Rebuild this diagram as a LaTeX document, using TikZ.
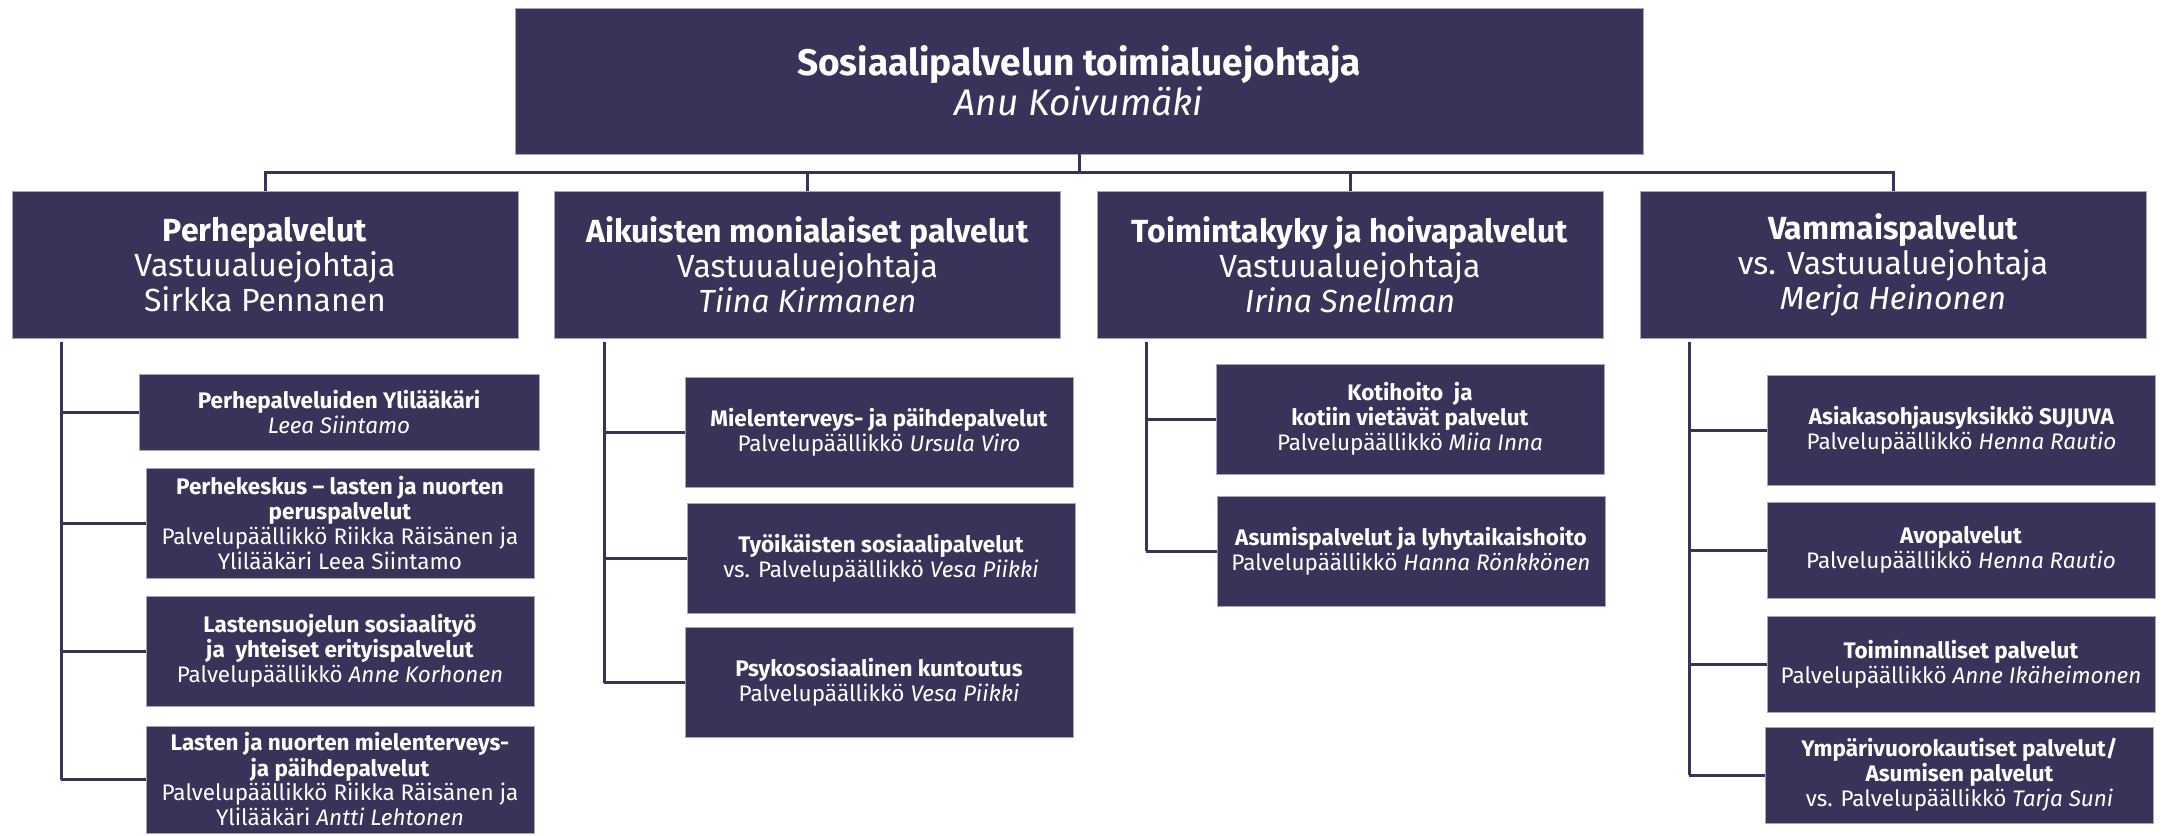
\documentclass[tikz,border=0pt]{standalone}
\usepackage{fontspec}
\setmainfont{Fira Sans}
\usepackage{tikz}
\definecolor{plum}{HTML}{3A3359}
\definecolor{plumedge}{HTML}{A7A4BA}

\tikzset{
  box/.style={draw=plumedge, line width=0.6pt, fill=plum, text=white,
    align=center, inner sep=0pt},
  topbox/.style={box, minimum width=1128pt, minimum height=146pt,
    font=\fontsize{37}{40}\selectfont},
  areabox/.style={box, minimum width=506pt, minimum height=147pt,
    font=\fontsize{32}{35}\selectfont},
  unitbox/.style={box, minimum width=388pt, minimum height=110pt,
    font=\fontsize{22.5}{25}\selectfont},
  link/.style={draw=plum, line width=3pt},
}

\begin{document}
\begin{tikzpicture}[x=1pt, y=-1pt]
\useasboundingbox (0,0) rectangle (2162,835);
% top
\node[topbox] (top) at (1079,81) {\textbf{Sosiaalipalvelun toimialuejohtaja}\\\textit{Anu Koivumäki}};
% areas
\node[areabox] (perhe) at (265,264.5) {\textbf{Perhepalvelut}\\Vastuualuejohtaja\\Sirkka Pennanen};
\node[areabox] (aikui) at (807.5,264.5) {\textbf{Aikuisten monialaiset palvelut}\\Vastuualuejohtaja\\\textit{Tiina Kirmanen}};
\node[areabox] (toimi) at (1350,264.5) {\textbf{Toimintakyky ja hoivapalvelut}\\Vastuualuejohtaja\\\textit{Irina Snellman}};
\node[areabox] (vamma) at (1893,264.5) {\textbf{Vammaispalvelut}\\vs. Vastuualuejohtaja\\\textit{Merja Heinonen}};
\coordinate (bus) at (1079,172);
\draw[link] (top.south) -- (top.south |- bus);
\draw[link] (perhe.north) |- (vamma.north |- bus) -- (vamma.north);
\draw[link] (aikui.north) -- (aikui.north |- bus);
\draw[link] (toimi.north) -- (toimi.north |- bus);

% Perhepalvelut
\node[unitbox, minimum width=400pt, minimum height=76pt] (p1) at (339,412) {\textbf{Perhepalveluiden Ylilääkäri}\\\textit{Leea Siintamo}};
\node[unitbox] (p2) at (340,523) {\textbf{Perhekeskus – lasten ja nuorten}\\\textbf{peruspalvelut}\\Palvelupäällikkö Riikka Räisänen ja\\Ylilääkäri Leea Siintamo};
\node[unitbox] (p3) at (340,651) {\textbf{Lastensuojelun sosiaalityö}\\\textbf{ja\ \ yhteiset erityispalvelut}\\Palvelupäällikkö \textit{Anne Korhonen}};
\node[unitbox, minimum height=107pt] (p4) at (340,779.5) {\textbf{Lasten ja nuorten mielenterveys-}\\\textbf{ja päihdepalvelut}\\Palvelupäällikkö Riikka Räisänen ja\\Ylilääkäri \textit{Antti Lehtonen}};
\coordinate (ps) at (61,342);
\draw[link] (ps) -- (ps |- p4.west);
\foreach \n in {p1,p2,p3,p4} \draw[link] (ps |- \n.west) -- (\n.west);

% Aikuisten monialaiset palvelut
\node[unitbox] (a1) at (879,432.5) {\textbf{Mielenterveys- ja päihdepalvelut}\\Palvelupäällikkö \textit{Ursula Viro}};
\node[unitbox] (a2) at (881,558) {\textbf{Työikäisten sosiaalipalvelut}\\vs. Palvelupäällikkö \textit{Vesa Piikki}};
\node[unitbox] (a3) at (879,682.5) {\textbf{Psykososiaalinen kuntoutus}\\Palvelupäällikkö \textit{Vesa Piikki}};
\coordinate (as) at (604,342);
\draw[link] (as) -- (as |- a3.west);
\foreach \n in {a1,a2,a3} \draw[link] (as |- \n.west) -- (\n.west);

% Toimintakyky ja hoivapalvelut
\node[unitbox] (t1) at (1410,419) {\textbf{Kotihoito\ \ ja}\\\textbf{kotiin vietävät palvelut}\\Palvelupäällikkö \textit{Miia Inna}};
\node[unitbox] (t2) at (1411,551) {\textbf{Asumispalvelut ja lyhytaikaishoito}\\Palvelupäällikkö \textit{Hanna Rönkkönen}};
\coordinate (ts) at (1146,342);
\draw[link] (ts) -- (ts |- t2.west);
\foreach \n in {t1,t2} \draw[link] (ts |- \n.west) -- (\n.west);

% Vammaispalvelut
\node[unitbox] (v1) at (1961.5,430) {\textbf{Asiakasohjausyksikkö SUJUVA}\\Palvelupäällikkö \textit{Henna Rautio}};
\node[unitbox, minimum height=96pt] (v2) at (1961,550) {\textbf{Avopalvelut}\\Palvelupäällikkö \textit{Henna Rautio}};
\node[unitbox, minimum height=96pt] (v3) at (1961,664) {\textbf{Toiminnalliset palvelut}\\Palvelupäällikkö \textit{Anne Ikäheimonen}};
\node[unitbox, minimum height=96pt] (v4) at (1959.5,775) {\textbf{Ympärivuorokautiset palvelut/}\\\textbf{Asumisen palvelut}\\vs. Palvelupäällikkö \textit{Tarja Suni}};
\coordinate (vs) at (1689,342);
\draw[link] (vs) -- (vs |- v4.west);
\foreach \n in {v1,v2,v3,v4} \draw[link] (vs |- \n.west) -- (\n.west);
\end{tikzpicture}
\end{document}
